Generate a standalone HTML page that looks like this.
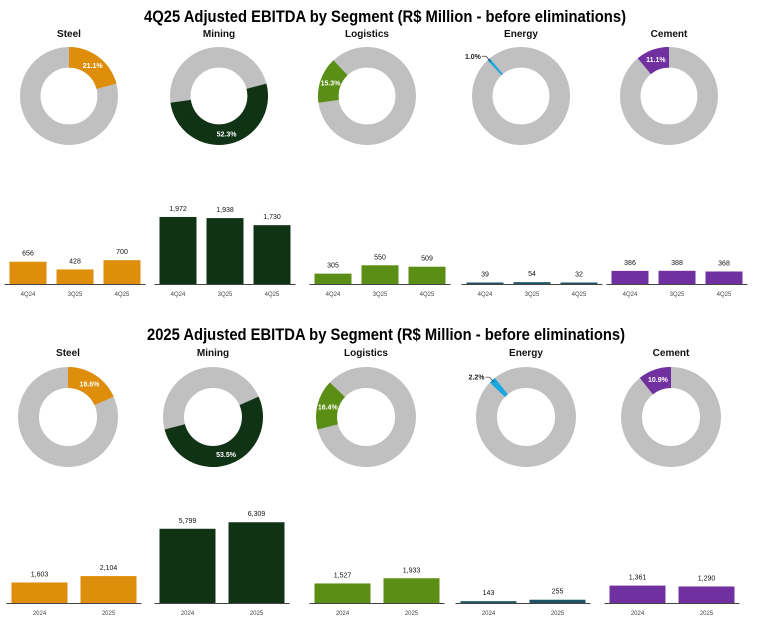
<!DOCTYPE html>
<html><head><meta charset="utf-8"><style>
html,body{margin:0;padding:0;background:#fff;}
svg{display:block;font-family:"Liberation Sans",sans-serif;}
</style></head><body>
<svg id="chart" width="758" height="641" viewBox="0 0 758 641" xmlns="http://www.w3.org/2000/svg">
<text x="385" y="22" text-anchor="middle" font-size="16.5" font-weight="bold" fill="#000" textLength="482" lengthAdjust="spacingAndGlyphs">4Q25 Adjusted EBITDA by Segment (R$ Million - before eliminations)</text>
<text x="386" y="340" text-anchor="middle" font-size="16.5" font-weight="bold" fill="#000" textLength="478" lengthAdjust="spacingAndGlyphs">2025 Adjusted EBITDA by Segment (R$ Million - before eliminations)</text>
</svg>
<script>
const segments = ["Steel","Mining","Logistics","Energy","Cement"];
const segColors = ["#DF8E0C","#0F3314","#5A8E14","#1AA7E0","#7030A0"];
const barColors = ["#DF8E0C","#0F3314","#5A8E14","#1F5466","#7030A0"];
const shareTop = [21.1,52.3,15.3,1.0,11.1];
const shareBottom = [18.6,53.5,16.4,2.2,10.9];
const catsTop = ["4Q24","3Q25","4Q25"];
const catsBottom = ["2024","2025"];
const steelTop = [656,428,700];
const miningTop = [1972,1938,1730];
const logisticsTop = [305,550,509];
const energyTop = [39,54,32];
const cementTop = [386,388,368];
const steelBottom = [1603,2104];
const miningBottom = [5799,6309];
const logisticsBottom = [1527,1933];
const energyBottom = [143,255];
const cementBottom = [1361,1290];

const NS="http://www.w3.org/2000/svg";
const svg=document.getElementById('chart');
function mk(tag,attrs,parent){const e=document.createElementNS(NS,tag);for(const k in attrs)e.setAttribute(k,attrs[k]);(parent||svg).appendChild(e);return e;}
function fmt(v){return v.toLocaleString('en-US');}

const sections=[
 {shares:shareTop,cats:catsTop,vals:[steelTop,miningTop,logisticsTop,energyTop,cementTop],
  titleY:37,donutX:[69,219,367,521,669],donutY:96,r:49,
  barCx:[75,225,380,532,677],barW:37,pitch:47,base:284,scale:0.034,key:'4q25'},
 {shares:shareBottom,cats:catsBottom,vals:[steelBottom,miningBottom,logisticsBottom,energyBottom,cementBottom],
  titleY:356,donutX:[68,213,366,526,671],donutY:417,r:50,
  barCx:[74,222,377,523,672],barW:56,pitch:69,base:603,scale:0.0128,key:'2025'}
];

function pt(cx,cy,r,a){const t=(a-90)*Math.PI/180;return [cx+r*Math.cos(t),cy+r*Math.sin(t)];}
function arcPath(cx,cy,ro,ri,a0,a1){
 const large=(a1-a0)>180?1:0;
 const p0=pt(cx,cy,ro,a0),p1=pt(cx,cy,ro,a1),p2=pt(cx,cy,ri,a1),p3=pt(cx,cy,ri,a0);
 return `M${p0[0]},${p0[1]} A${ro},${ro} 0 ${large} 1 ${p1[0]},${p1[1]} L${p2[0]},${p2[1]} A${ri},${ri} 0 ${large} 0 ${p3[0]},${p3[1]} Z`;
}

sections.forEach(sec=>{
 const total=sec.shares.reduce((a,b)=>a+b,0);
 let cum=0;
 segments.forEach((seg,i)=>{
  const slug=seg.toLowerCase();
  const t=mk('text',{x:sec.donutX[i],y:sec.titleY,'text-anchor':'middle','font-size':'10','font-weight':'bold',fill:'#111'});
  
  
  t.textContent=seg;
  const cx=sec.donutX[i],cy=sec.donutY,ro=sec.r,ri=sec.r*0.58;
  const ring=mk('circle',{cx:cx,cy:cy,r:(ro+ri)/2,fill:'none',stroke:'#C0C0C0','stroke-width':ro-ri});
  
  
  const a0=cum/total*360, a1=(cum+sec.shares[i])/total*360;
  cum+=sec.shares[i];
  const sl=mk('path',{d:arcPath(cx,cy,ro,ri,a0,a1),fill:segColors[i]});
  
  
  const mid=(a0+a1)/2;
  const lbl=sec.shares[i].toFixed(1)+'%';
  if(sec.shares[i]<5){
   const pin=pt(cx,cy,ro-3,mid), pout=pt(cx,cy,ro+4,mid);
   const ln=mk('polyline',{points:`${pin[0]},${pin[1]} ${pout[0]},${pout[1]} ${pout[0]-4},${pout[1]}`,fill:'none',stroke:'#333','stroke-width':'0.7'});
   
   
   const tl=mk('text',{x:pout[0]-5,y:pout[1]+2.5,'text-anchor':'end','font-size':'7','font-weight':'bold',fill:'#222'});
   
   
   tl.textContent=lbl;
  } else {
   const p=pt(cx,cy,(ro+ri)/2,mid);
   const tl=mk('text',{x:p[0],y:p[1]+2.5,'text-anchor':'middle','font-size':'7','font-weight':'bold',fill:'#fff'});
   
   
   tl.textContent=lbl;
  }
  const n=sec.cats.length, vals=sec.vals[i];
  const x0=sec.barCx[i]-((n-1)*sec.pitch)/2;
  const ax=mk('line',{x1:x0-sec.barW/2-5,x2:x0+(n-1)*sec.pitch+sec.barW/2+5,y1:sec.base+0.5,y2:sec.base+0.5,stroke:'#444','stroke-width':'1'});
  
  
  vals.forEach((v,j)=>{
   const bx=x0+j*sec.pitch, h=Math.max(1.5,v*sec.scale);
   const b=mk('rect',{x:bx-sec.barW/2,y:sec.base-h,width:sec.barW,height:h,fill:barColors[i]});
   
   
   const vt=mk('text',{x:bx,y:sec.base-h-6,'text-anchor':'middle','font-size':'7',fill:'#111'});
   
   
   vt.textContent=fmt(v);
   const ct=mk('text',{x:bx,y:sec.base+12,'text-anchor':'middle','font-size':'6',fill:'#444'});
   
   
   ct.textContent=sec.cats[j];
  });
 });
});
</script>
</body></html>
